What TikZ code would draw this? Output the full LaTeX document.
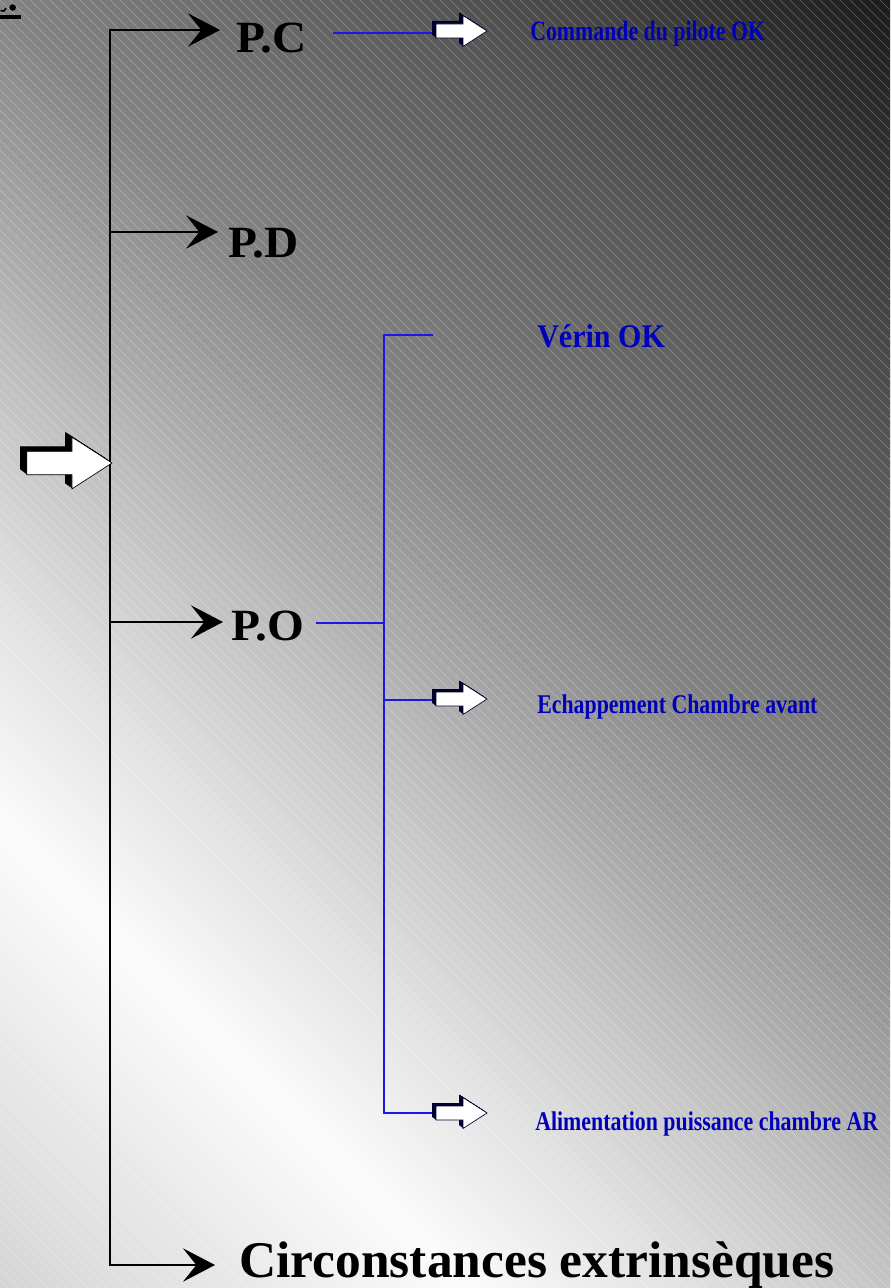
\documentclass[tikz,border=0pt]{standalone}
\usepackage{fontspec}
\setmainfont{Liberation Serif}
\newfontfamily\slimserif[FakeStretch=0.78]{Liberation Serif}
\newfontfamily\narrowserif[FakeStretch=0.81]{Liberation Serif}
\newfontfamily\verinserif[FakeStretch=0.91]{Liberation Serif}
\newfontfamily\wideserif[FakeStretch=1.06]{Liberation Serif}
\usetikzlibrary{arrows.meta}

\definecolor{twigblue}{RGB}{25,25,225}
\definecolor{labelblue}{RGB}{0,0,185}
\definecolor{shadownavy}{RGB}{0,0,45}

\tikzset{
  trunk/.style={draw=black, line width=0.9pt, -{Stealth[length=24pt,width=25pt,inset=10pt]}},
  twig/.style={draw=twigblue, line width=0.9pt},
  part/.style={anchor=base west, inner sep=0pt, text=black, font=\fontsize{33.5}{36}\wideserif\bfseries},
  note/.style={anchor=base west, inner sep=0pt, text=labelblue, font=\fontsize{20.25}{22}\narrowserif\bfseries},
  pics/fatarrow/.style={code={
    \foreach \d in {0.5,1,...,4}
      \fill[#1, shift={(-\d,0.75*\d)}] (0,0) -- (-24,-15.5) -- (-24,-7) -- (-51,-7) -- (-51,7) -- (-24,7) -- (-24,15.5) -- cycle;
    \filldraw[fill=white, draw=#1, line width=0.5pt] (0,0) -- (-24,-15.5) -- (-24,-7) -- (-51,-7) -- (-51,7) -- (-24,7) -- (-24,15.5) -- cycle;
  }}
}

\begin{document}
\begin{tikzpicture}[x=0.75pt,y=0.75pt,yscale=-1,xscale=1]
    \useasboundingbox (0,0) rectangle (890,1288);

    % background: diagonal grey shading + hatching
    \begin{scope}
    \clip (0,0) rectangle (890,1288);
    \foreach \sa/\ga/\sb/\gb in {-1300/212/-1050/232, -1050/232/-820/252, -820/252/-600/226, -600/226/-350/190, -350/190/0/132, 0/132/400/90, 400/90/600/66, 600/66/900/26}{
      \foreach \k in {0,...,29}{
        \pgfmathsetmacro\s{\sa+(\sb-\sa)*\k/30}
        \pgfmathsetmacro\w{(\sb-\sa)/30+1}
        \pgfmathtruncatemacro\g{\ga+(\gb-\ga)*(\k+0.5)/30}
        \definecolor{bgtone}{RGB}{\g,\g,\g}
        \fill[bgtone] (\s-10,-10) -- ++(1320,1320) -- ++(\w,0) -- ++(-1320,-1320) -- cycle;
      }
    }
    \foreach \c in {-1300,-1290,...,890}
      \draw[white, opacity=0.3, line width=0.4pt] (\c-10,-10) -- ++(1320,1320);
    \end{scope}

    % cut-off mark top left
    \fill (0,15) rectangle (21,19);
    \fill (12.7,7.5) circle (3.3);
    \draw[line width=1.2pt] (0.5,10.5) .. controls (2.5,12.5) and (4.5,11) .. (6,8);

    % Text Node
    \node[part] (pc) at (236,53) {P.C};
    \node[part] (pd) at (228,257) {P.D};
    \node[part] (po) at (231,640) {P.O};
    \node[part, font=\fontsize{38.6}{42}\selectfont\bfseries] (ce) at (239,1277) {Circonstances extrinsèques};
    \node[note, font=\fontsize{21}{23}\slimserif\bfseries] (cmd) at (530,41) {Commande du pilote OK};
    \node[note, font=\fontsize{24.75}{27}\verinserif\bfseries] (verin) at (537,347) {Vérin OK};
    \node[note] (echap) at (537,713) {Echappement Chambre avant};
    \node[note] (alim) at (535,1130) {Alimentation puissance chambre AR};

    % black tree
    \coordinate (fork) at (110,463);
    \coordinate (pc-tip) at (220,30);
    \coordinate (pd-tip) at (218,232);
    \coordinate (po-tip) at (223,622);
    \coordinate (ce-tip) at (215,1265);
    \draw[trunk] (fork) |- (pc-tip);
    \draw[trunk] (fork) |- (pd-tip);
    \draw[trunk] (fork) |- (po-tip);
    \draw[trunk] (fork) |- (ce-tip);

    % blue tree
    \coordinate (pc-out) at (333,33);
    \coordinate (cmd-in) at (440,33);
    \coordinate (po-out) at (316,623);
    \coordinate (split) at (384,623);
    \coordinate (verin-stub) at (433,335);
    \coordinate (echap-in) at (440,700);
    \coordinate (alim-in) at (440,1113);
    \draw[twig] (pc-out) -- (cmd-in);
    \draw[twig] (po-out) -- (split);
    \draw[twig] (verin-stub) -| (split) |- (alim-in);
    \draw[twig] (split |- echap-in) -- (echap-in);

    % block arrows
    \pic[scale=1.67] at (112,463) {fatarrow=black};
    \pic at (487,31) {fatarrow=shadownavy};
    \pic at (487,699) {fatarrow=shadownavy};
    \pic at (487,1113) {fatarrow=shadownavy};

\end{tikzpicture}
\end{document}
